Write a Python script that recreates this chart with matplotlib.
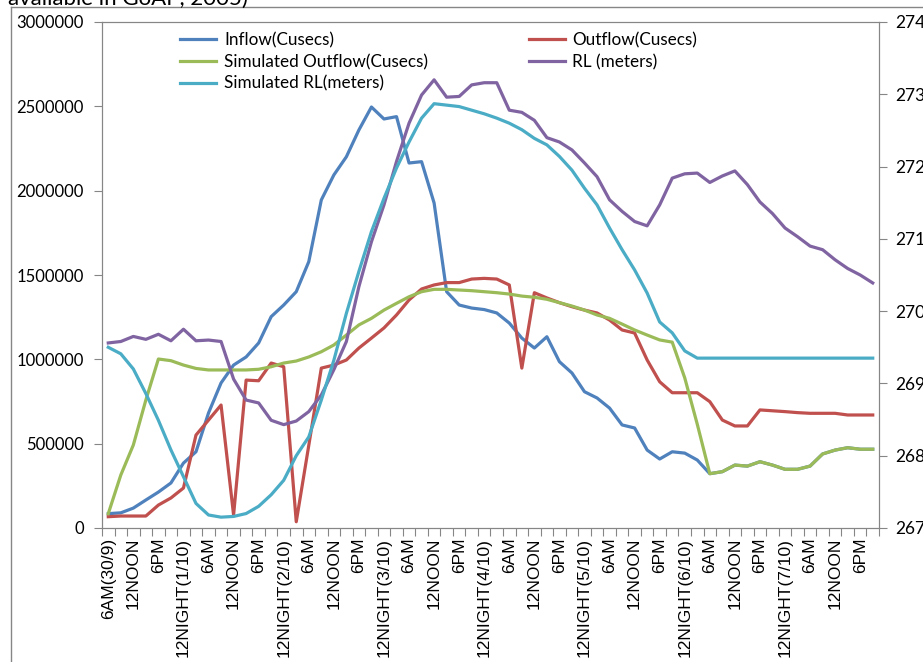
import numpy as np
import matplotlib
matplotlib.use('Agg')
import matplotlib.pyplot as plt
from matplotlib.lines import Line2D

plt.rcParams['font.family'] = ['Lato', 'DejaVu Sans']

# etiquetas del eje x (una cada 6 horas, datos cada 3 horas)
etiquetas_x = ['6AM(30/9)', '12NOON', '6PM', '12NIGHT(1/10)', '6AM', '12NOON', '6PM',
               '12NIGHT(2/10)', '6AM', '12NOON', '6PM', '12NIGHT(3/10)', '6AM', '12NOON',
               '6PM', '12NIGHT(4/10)', '6AM', '12NOON', '6PM', '12NIGHT(5/10)', '6AM',
               '12NOON', '6PM', '12NIGHT(6/10)', '6AM', '12NOON', '6PM', '12NIGHT(7/10)',
               '6AM', '12NOON', '6PM']

inflow = [85000, 90000, 118000, 166000, 213000, 267000, 385000, 452000, 682000, 860000,
          966000, 1014000, 1097000, 1253000, 1322000, 1401000, 1579000, 1945000, 2093000,
          2201000, 2360000, 2496000, 2425000, 2439000, 2164000, 2172000, 1927000, 1401000,
          1322000, 1304000, 1295000, 1275000, 1215000, 1126000, 1067000, 1134000, 986000,
          919000, 808000, 771000, 711000, 611000, 593000, 462000, 409000, 452000, 444000,
          403000, 322000, 334000, 373000, 367000, 393000, 373000, 348000, 348000, 367000,
          439000, 462000, 476000, 467000, 467000]

outflow = [67000, 71000, 71000, 71000, 136000, 178000, 237000, 551000, 640000, 729000,
           77000, 877000, 873000, 978000, 956000, 37000, 490000, 948000, 966000, 996000,
           1067000, 1126000, 1186000, 1263000, 1352000, 1417000, 1441000, 1455000, 1455000,
           1476000, 1480000, 1476000, 1441000, 948000, 1395000, 1364000, 1336000, 1312000,
           1292000, 1275000, 1233000, 1174000, 1156000, 996000, 867000, 802000, 802000,
           802000, 749000, 640000, 605000, 605000, 700000, 695000, 690000, 684000, 680000,
           680000, 680000, 670000, 670000, 670000]

sim_outflow = [85000, 314000, 492000, 759000, 1002000, 992000, 966000, 946000, 937000,
               937000, 937000, 937000, 941000, 956000, 978000, 990000, 1014000, 1045000,
               1085000, 1144000, 1204000, 1243000, 1292000, 1332000, 1371000, 1401000,
               1415000, 1415000, 1411000, 1407000, 1401000, 1395000, 1387000, 1375000,
               1368000, 1356000, 1336000, 1316000, 1292000, 1263000, 1243000, 1209000,
               1174000, 1144000, 1115000, 1102000, 890000, 615000, 322000, 334000, 373000,
               367000, 393000, 373000, 348000, 348000, 367000, 439000, 462000, 476000,
               467000, 467000]

rl = [269.56, 269.58, 269.65, 269.61, 269.68, 269.59, 269.75, 269.59, 269.60, 269.58,
      269.06, 268.77, 268.73, 268.49, 268.43, 268.48, 268.61, 268.84, 269.19, 269.58,
      270.34, 270.96, 271.47, 272.07, 272.60, 272.99, 273.20, 272.96, 272.97, 273.13,
      273.16, 273.16, 272.78, 272.75, 272.64, 272.40, 272.34, 272.23, 272.05, 271.86,
      271.54, 271.38, 271.24, 271.18, 271.47, 271.84, 271.90, 271.91, 271.78, 271.87,
      271.94, 271.75, 271.51, 271.35, 271.15, 271.03, 270.90, 270.85, 270.71, 270.59,
      270.50, 270.39]

sim_rl = [269.50, 269.41, 269.20, 268.86, 268.49, 268.08, 267.71, 267.34, 267.18, 267.15,
          267.16, 267.20, 267.30, 267.46, 267.66, 268.00, 268.26, 268.77, 269.32, 269.97,
          270.55, 271.10, 271.56, 271.98, 272.34, 272.67, 272.87, 272.85, 272.83, 272.78,
          272.73, 272.67, 272.60, 272.51, 272.39, 272.30, 272.14, 271.95, 271.70, 271.47,
          271.15, 270.85, 270.57, 270.25, 269.85, 269.70, 269.45, 269.35, 269.35, 269.35,
          269.35, 269.35, 269.35, 269.35, 269.35, 269.35, 269.35, 269.35, 269.35, 269.35,
          269.35, 269.35]

x = np.arange(len(inflow))
gris = '#868686'
lw = 2.3

fig = plt.figure(figsize=(9.23, 6.62), dpi=100)

# texto cortado del documento y marco del grafico
fig.text(8 / 923, 1 - 5 / 662, 'available in GoAP, 2005)', fontsize=16, va='baseline')
fig.add_artist(Line2D([11 / 923, 1.01], [1 - 7 / 662] * 2, color=gris, lw=1))
fig.add_artist(Line2D([11 / 923] * 2, [1 - 7 / 662, -0.01], color=gris, lw=1))

ax = fig.add_axes([102 / 923, 1 - 528 / 662, 777 / 923, 506 / 662])
ax2 = ax.twinx()

l1, = ax.plot(x, inflow, color='#4F81BD', lw=lw, label='Inflow(Cusecs)')
l2, = ax.plot(x, outflow, color='#C0504D', lw=lw, label='Outflow(Cusecs)')
l3, = ax.plot(x, sim_outflow, color='#9BBB59', lw=lw, label='Simulated Outflow(Cusecs)')
l4, = ax2.plot(x, rl, color='#8064A2', lw=lw, label='RL (meters)')
l5, = ax2.plot(x, sim_rl, color='#4BACC6', lw=lw, label='Simulated RL(meters)')

ax.set_xlim(-0.5, len(x) - 0.5)
ax.set_ylim(0, 3000000)
ax2.set_ylim(267, 274)

ax.set_yticks(np.arange(0, 3000001, 500000))
ax.set_yticklabels([str(v) for v in range(0, 3000001, 500000)])
ax2.set_yticks(np.arange(267, 275))

# marcas entre categorias, etiquetas en las categorias pares
ax.set_xticks(np.arange(-0.5, len(x), 1))
ax.set_xticklabels([])
ax.set_xticks(np.arange(0, len(x), 2), minor=True)
ax.set_xticklabels(etiquetas_x, minor=True, rotation=90, family='Liberation Sans', fontsize=12.5)
ax.tick_params(axis='x', which='major', length=6, color=gris, direction='out')
ax.tick_params(axis='x', which='minor', length=0, pad=7)
ax.tick_params(axis='y', length=6, color=gris, labelsize=12, pad=7)
ax2.tick_params(axis='y', length=6, color=gris, labelsize=12.5, pad=6)

for a in (ax, ax2):
    for s in a.spines.values():
        s.set_color(gris)

ax2.legend([l1, l3, l5, l2, l4], [l.get_label() for l in (l1, l3, l5, l2, l4)],
           ncol=2, loc='upper left', bbox_to_anchor=(0.09, 0.997), frameon=False,
           fontsize=12.3, handlelength=2.1, handletextpad=0.45, columnspacing=5.9,
           labelspacing=0.33, borderpad=0)

fig.savefig('out.png', dpi=100)
